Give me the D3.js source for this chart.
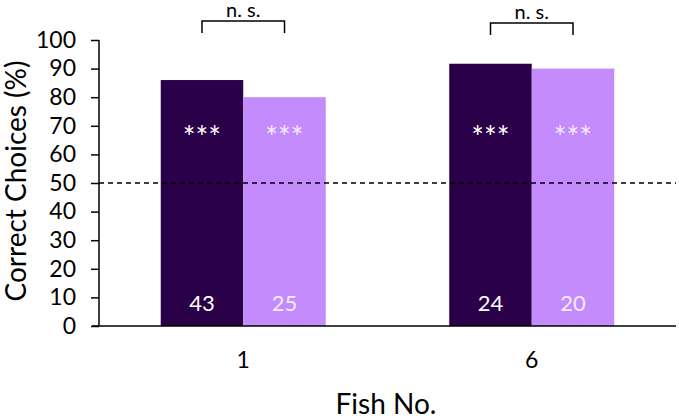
<!DOCTYPE html>
<html>
<head>
<meta charset="utf-8">
<script src="https://cdn.jsdelivr.net/npm/d3@7"></script>
<style>
  body { margin: 0; background: #fff; }
  text { font-family: Lato, "Open Sans", sans-serif; }
</style>
</head>
<body>
<div class="canvas"></div>
<script>
const fish = ["1", "6"];
const groups = ["a", "b"];
const correct = [[86, 80], [91.7, 90]];
const counts = [[43, 25], [24, 20]];
const yTicks = [0, 10, 20, 30, 40, 50, 60, 70, 80, 90, 100];
const chance = 50;

const dims = { width: 679, height: 419 };
const margin = { top: 40, right: 3, bottom: 93, left: 99 };
const colors = ["#2a0049", "#c48bfc"];

const svg = d3
  .select(".canvas")
  .append("svg")
  .attr("width", dims.width)
  .attr("height", dims.height);

const innerW = dims.width - margin.left - margin.right;
const innerH = dims.height - margin.top - margin.bottom;

const graph = svg
  .append("g")
  .attr("transform", `translate(${margin.left}, ${margin.top})`);

const x = d3.scaleBand().domain(fish).range([0, innerW]);
const xSub = d3.scaleBand().domain(groups).range([0, x.bandwidth() * 0.572]);
const offset = (x.bandwidth() - xSub.range()[1]) / 2;
const y = d3.scaleLinear().domain([0, 100]).range([innerH, 0]);

// y axis
const yAxis = graph.append("g").call(
  d3.axisLeft(y).tickValues(yTicks).tickSize(8).tickPadding(15)
);
yAxis.selectAll("text").attr("font-size", 23).attr("fill", "#000");
yAxis.selectAll("line, path").attr("stroke", "#000").attr("stroke-width", 1.5);
yAxis.select(".domain").attr("d", `M0,${innerH}V0`);

// bars
const fishGroups = graph
  .selectAll(".fish")
  .data(fish)
  .enter()
  .append("g")
  .attr("transform", (d) => `translate(${x(d) + offset}, 0)`);

fishGroups.each(function (f, i) {
  const g = d3.select(this);
  groups.forEach((grp, j) => {
    const v = correct[i][j];
    const bx = xSub(grp);
    const bw = xSub.bandwidth();
    g.append("rect")
      .attr("x", bx)
      .attr("y", y(v))
      .attr("width", bw)
      .attr("height", innerH - y(v))
      .attr("fill", colors[j]);
    g.append("text")
      .attr("x", bx + bw / 2)
      .attr("y", y(66))
      .attr("dy", "0.35em")
      .attr("text-anchor", "middle")
      .attr("fill", j === 0 ? "#fff" : "#f4eaff")
      .attr("font-size", 30)
      .text("***");
    g.append("text")
      .attr("x", bx + bw / 2)
      .attr("y", y(8))
      .attr("dy", "0.35em")
      .attr("text-anchor", "middle")
      .attr("fill", j === 0 ? "#fff" : "#f4eaff")
      .attr("font-size", 22)
      .text(counts[i][j]);
  });

  // significance bracket
  const x1 = xSub("a") + xSub.bandwidth() / 2;
  const x2 = xSub("b") + xSub.bandwidth() / 2;
  const yt = -19 + (i === 0 ? 0 : 2);
  g.append("path")
    .attr("d", `M${x1},${yt + 12}V${yt}H${x2}V${yt + 12}`)
    .attr("fill", "none")
    .attr("stroke", "#000")
    .attr("stroke-width", 1.5);
  g.append("text")
    .attr("x", (x1 + x2) / 2)
    .attr("y", yt - 4)
    .attr("text-anchor", "middle")
    .attr("font-size", 20)
    .text("n. s.");
});

// chance line
graph
  .append("line")
  .attr("x1", 0)
  .attr("x2", innerW)
  .attr("y1", y(chance))
  .attr("y2", y(chance))
  .attr("stroke", "#000")
  .attr("stroke-width", 1.3)
  .attr("stroke-dasharray", "5,4");

// x axis
const xAxis = graph
  .append("g")
  .attr("transform", `translate(0, ${innerH})`)
  .call(d3.axisBottom(x).tickSize(0).tickPadding(26));
xAxis.selectAll("text").attr("font-size", 23).attr("fill", "#000");
xAxis.select(".domain").attr("stroke", "#000").attr("stroke-width", 1.5)
  .attr("d", `M-7,0H${innerW}`);

// titles
svg
  .append("text")
  .attr("transform", `translate(26, 181) rotate(-90)`)
  .attr("text-anchor", "middle")
  .attr("font-size", 28)
  .text("Correct Choices (%)");

svg
  .append("text")
  .attr("x", 386)
  .attr("y", 414)
  .attr("text-anchor", "middle")
  .attr("font-size", 28)
  .text("Fish No.");
</script>
</body>
</html>
